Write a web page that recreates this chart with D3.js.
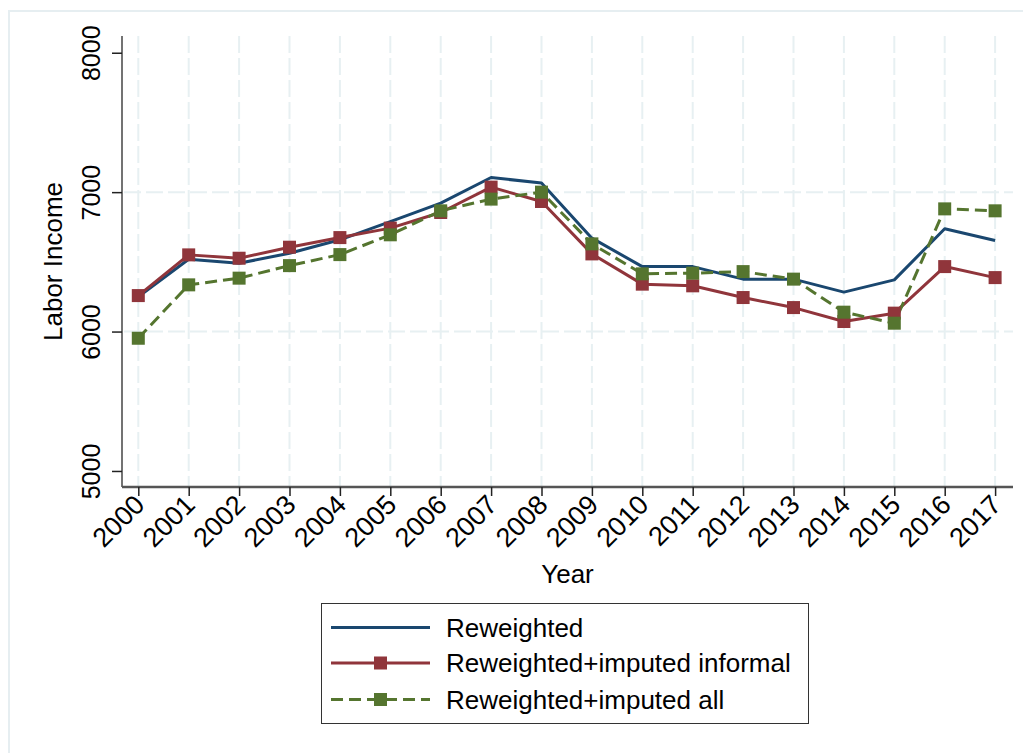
<!DOCTYPE html>
<html>
<head>
<meta charset="utf-8">
<script src="https://cdn.jsdelivr.net/npm/d3@7"></script>
<style>
  html, body { margin: 0; padding: 0; background: #fff; }
  svg { display: block; font-family: Arial, "Liberation Sans", Helvetica, sans-serif; }
</style>
</head>
<body>
<svg id="chart" width="1023" height="753"></svg>
<script>
const years = [2000, 2001, 2002, 2003, 2004, 2005, 2006, 2007, 2008, 2009, 2010, 2011, 2012, 2013, 2014, 2015, 2016, 2017];
const reweighted = [6250, 6519, 6490, 6562, 6658, 6789, 6921, 7105, 7065, 6670, 6466, 6466, 6376, 6376, 6283, 6371, 6737, 6653];
const reweightedInformal = [6258, 6550, 6526, 6605, 6674, 6742, 6854, 7036, 6933, 6557, 6340, 6328, 6244, 6172, 6072, 6132, 6466, 6387];
const reweightedAll = [5952, 6335, 6383, 6473, 6552, 6694, 6866, 6950, 7000, 6629, 6414, 6419, 6430, 6376, 6139, 6060, 6880, 6866];
const yTicks = [5000, 6000, 7000, 8000];
const yGridTicks = [6000, 7000];
const seriesNames = ["Reweighted", "Reweighted+imputed informal", "Reweighted+imputed all"];

const colors = ["#1a476f", "#90353b", "#55752f"];
const svg = d3.select("#chart");

// outer frame
svg.append("rect").attr("x", 9).attr("y", 11).attr("width", 1100).attr("height", 800)
  .attr("fill", "none").attr("stroke", "#e6eef1").attr("stroke-width", 2);

const x = d3.scaleLinear().domain([2000, 2017]).range([138.3, 995.1]);
const y = d3.scaleLinear().domain([4885, 8120]).range([487, 36]);
const axisLeft = 122, axisRight = 1013;

const gridColor = "#e7f0f2";
// vertical grid
svg.append("g").selectAll("line").data(years).join("line")
  .attr("x1", d => x(d)).attr("x2", d => x(d))
  .attr("y1", 36).attr("y2", 487)
  .attr("stroke", gridColor).attr("stroke-width", 2).attr("stroke-dasharray", "17,5");
// horizontal grid
svg.append("g").selectAll("line").data(yGridTicks).join("line")
  .attr("x1", axisLeft + 2).attr("x2", axisRight)
  .attr("y1", d => y(d)).attr("y2", d => y(d))
  .attr("stroke", gridColor).attr("stroke-width", 2).attr("stroke-dasharray", "17,5");

// Y axis
const yAxis = svg.append("g").attr("transform", `translate(${axisLeft},0)`)
  .call(d3.axisLeft(y).tickValues(yTicks).tickSize(10).tickFormat(d3.format("d")));
yAxis.select(".domain").attr("d", `M0,36V487`).attr("stroke", "#444").attr("stroke-width", 1.5);
yAxis.selectAll(".tick line").attr("stroke", "#222").attr("stroke-width", 1.5);
yAxis.selectAll(".tick text")
  .attr("x", null).attr("dy", null)
  .attr("transform", "translate(-22,0) rotate(-90)")
  .attr("text-anchor", "middle")
  .attr("font-size", 25).attr("fill", "#000");

// X axis
const xAxis = svg.append("g").attr("transform", `translate(0,487)`)
  .call(d3.axisBottom(x).tickValues(years).tickSize(9).tickFormat(d3.format("d")));
xAxis.select(".domain").attr("d", `M${axisLeft},0H${axisRight}`).attr("stroke", "#555").attr("stroke-width", 2.5);
xAxis.selectAll(".tick line").attr("stroke", "#222").attr("stroke-width", 1.5);
xAxis.selectAll(".tick text")
  .attr("y", null).attr("dy", null)
  .attr("transform", "translate(1,13) rotate(-45)")
  .attr("text-anchor", "end")
  .attr("dominant-baseline", "central")
  .attr("font-size", 27).attr("fill", "#000");
svg.selectAll(".tick text").attr("font-family", "Arial, 'Liberation Sans', sans-serif");

// axis titles
svg.append("text").attr("transform", "translate(61.5,261.5) rotate(-90)")
  .attr("text-anchor", "middle").attr("font-size", 26).text("Labor Income");
svg.append("text").attr("x", 567.5).attr("y", 583)
  .attr("text-anchor", "middle").attr("font-size", 26).text("Year");

// lines
const line = d3.line().x((d, i) => x(years[i])).y(d => y(d));
const allSeries = [reweighted, reweightedInformal, reweightedAll];
const dashes = [null, null, "12,6"];
allSeries.forEach((s, k) => {
  svg.append("path").datum(s).attr("d", line)
    .attr("fill", "none").attr("stroke", colors[k]).attr("stroke-width", 3)
    .attr("stroke-linejoin", "round")
    .attr("stroke-dasharray", dashes[k]);
});
const ms = 13;
[1, 2].forEach(k => {
  svg.append("g").selectAll("rect").data(allSeries[k]).join("rect")
    .attr("x", (d, i) => x(years[i]) - ms / 2)
    .attr("y", d => y(d) - ms / 2)
    .attr("width", ms).attr("height", ms)
    .attr("fill", colors[k]);
});

// legend
const lg = svg.append("g");
lg.append("rect").attr("x", 321.5).attr("y", 603.5).attr("width", 487).attr("height", 120)
  .attr("fill", "#fff").attr("stroke", "#333").attr("stroke-width", 1);
const rowY = [627.5, 663, 699.5];
seriesNames.forEach((name, k) => {
  lg.append("line").attr("x1", 331).attr("x2", 430).attr("y1", rowY[k]).attr("y2", rowY[k])
    .attr("stroke", colors[k]).attr("stroke-width", 3).attr("stroke-dasharray", dashes[k]);
  if (k > 0) {
    lg.append("rect").attr("x", 380.5 - ms / 2).attr("y", rowY[k] - ms / 2)
      .attr("width", ms).attr("height", ms).attr("fill", colors[k]);
  }
  lg.append("text").attr("x", 446).attr("y", rowY[k]).attr("dy", "0.35em")
    .attr("font-size", 26).attr("fill", "#000").text(name);
});
</script>
</body>
</html>
